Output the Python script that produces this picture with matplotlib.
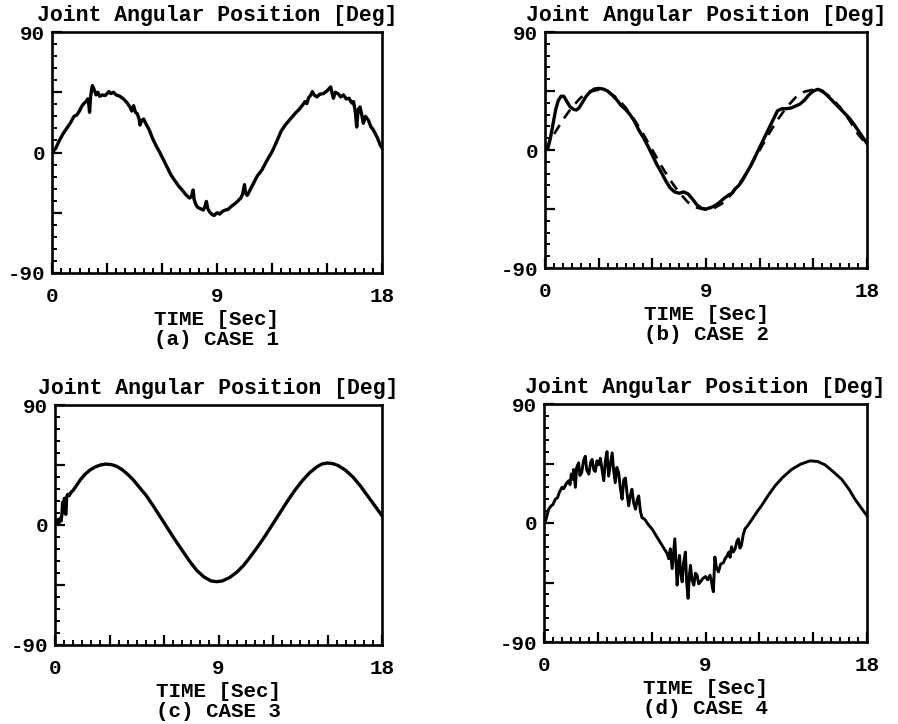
import matplotlib
matplotlib.use("Agg")
import matplotlib.pyplot as plt
from matplotlib.ticker import FixedLocator, MultipleLocator, FuncFormatter

# --- data (time [s], joint angle [deg]) ---

# (a) CASE 1
t_a = [0.0, 0.2, 0.4, 0.6, 0.8, 1.0, 1.1, 1.2, 1.35, 1.5, 1.6, 1.7, 1.85, 1.95, 2.0, 2.05,
       2.1, 2.15, 2.2, 2.3, 2.4, 2.5, 2.6, 2.75, 2.9, 3.0, 3.1, 3.2, 3.35, 3.5, 3.7, 3.9,
       4.1, 4.25, 4.35, 4.45, 4.55, 4.65, 4.75, 4.8, 4.9, 5.0, 5.1, 5.3, 5.5, 5.7, 5.9,
       6.1, 6.3, 6.5, 6.7, 6.9, 7.1, 7.3, 7.5, 7.6, 7.7, 7.75, 7.85, 7.95, 8.1, 8.25,
       8.35, 8.42, 8.5, 8.6, 8.75, 8.85, 9.0, 9.15, 9.3, 9.45, 9.6, 9.8, 10.0, 10.15,
       10.3, 10.4, 10.5, 10.55, 10.65, 10.8, 11.0, 11.2, 11.45, 11.7, 12.0, 12.25, 12.5,
       12.75, 13.0, 13.25, 13.5, 13.7, 13.8, 13.9, 14.0, 14.1, 14.2, 14.3, 14.45, 14.6,
       14.8, 15.0, 15.1, 15.2, 15.28, 15.35, 15.45, 15.6, 15.75, 15.9, 16.05, 16.2,
       16.35, 16.45, 16.55, 16.62, 16.7, 16.8, 16.9, 16.98, 17.1, 17.26, 17.4, 17.5,
       17.62, 17.75, 17.9, 18.0]
pos_a = [0, 3, 9, 14, 18, 22, 24.5, 27, 28, 31, 34, 36, 38, 40, 37, 30,
         41, 46, 50, 47, 43, 45, 42, 43, 42.5, 44, 45.5, 44, 45, 43, 42, 40,
         37, 34, 31, 35, 30, 29, 25, 20.5, 24, 25, 22, 17, 10, 4.5, -0.5,
         -6, -11.5, -17, -21, -25, -28, -31.5, -34, -33, -28, -35, -39, -41, -42, -43,
         -40, -36.5, -42, -44.5, -46.5, -47, -45, -46, -44, -43, -42.5, -40, -38, -36,
         -34, -31, -24, -30, -32, -28, -22.5, -17.5, -13, -6.5, 0.5, 8, 16,
         21, 25, 29, 32.5, 36, 38, 36.5, 41, 42.5, 45.5, 43, 41.5, 43.5,
         44, 46, 47.5, 49, 44, 40.5, 45, 44, 41.5, 43, 40, 40.5,
         37, 38, 30, 19, 32, 34, 28, 21.8, 27, 24, 19, 17.5,
         14.3, 11, 5.6, 3.5]

# (b) CASE 2 -- desired (dashed) and actual (solid)
t_b_ref = [0, 0.5, 1, 1.5, 2, 2.5, 3, 3.5, 4, 4.5, 5, 5.5, 6, 6.5, 7, 7.5, 8, 8.5, 9,
           9.5, 10, 10.5, 11, 11.5, 12, 12.5, 13, 13.5, 14, 14.5, 15, 15.5, 16, 16.5,
           17, 17.5, 18]
pos_b_ref = [0, 12, 23, 32.5, 40, 44.5, 46, 44.5, 40, 32.5, 23, 12, 0, -12, -23, -32.5,
             -40, -44, -45.5, -44, -40, -32.5, -23, -12, 0, 12, 23, 32.5, 40, 44.5, 46,
             44.5, 40, 32.5, 23, 12, 4]
t_b = [0, 0.15, 0.3, 0.45, 0.6, 0.75, 0.9, 1.05, 1.2, 1.4, 1.6, 1.75, 1.9, 2.1, 2.3, 2.5,
       2.75, 3.0, 3.25, 3.5, 3.75, 4.0, 4.25, 4.5, 4.75, 5.0, 5.25, 5.5, 5.75, 6.0, 6.25,
       6.5, 6.75, 7.0, 7.25, 7.5, 7.75, 8.0, 8.25, 8.5, 8.75, 9.0, 9.25, 9.5, 9.75, 10.0,
       10.25, 10.45, 10.6, 10.8, 11.0, 11.25, 11.5, 11.75, 12.0, 12.25, 12.5, 12.75, 13.0,
       13.25, 13.5, 13.75, 14.0, 14.25, 14.5, 14.75, 15.0, 15.25, 15.5, 15.75, 16.0,
       16.25, 16.5, 16.75, 17.0, 17.25, 17.5, 17.75, 18.0]
pos_b = [0, 1, 9, 20, 31, 38, 41, 41, 37.5, 33, 31, 30.5, 32, 36.5, 41, 44,
         46.5, 47, 46.5, 45, 42, 38.5, 34, 31, 27, 22, 15, 9.5, 3, -4, -11,
         -17, -23.5, -29, -32, -33, -32, -33.5, -37.5, -42, -44.5, -45, -44, -42.5, -40, -37,
         -34.5, -33, -30, -27.5, -24, -18, -12, -5, 2, 9, 16, 23, 30,
         31.5, 31.5, 32, 33.5, 35, 38, 42, 45, 46.3, 45, 42, 38.5,
         35, 31.5, 28, 24.5, 20, 15, 10, 5]

# (c) CASE 3
t_c = [0, 0.08, 0.15, 0.2, 0.28, 0.33, 0.38, 0.42, 0.47, 0.52, 0.56, 0.6, 0.64, 0.7, 0.78,
       0.88, 1.0, 1.2, 1.4, 1.65, 1.9, 2.2, 2.5, 2.8, 3.1, 3.4, 3.7, 4.0, 4.3, 4.6, 5.0,
       5.4, 5.8, 6.2, 6.6, 7.0, 7.4, 7.8, 8.2, 8.6, 8.9, 9.2, 9.6, 10.0, 10.4, 10.8, 11.2,
       11.6, 12.0, 12.4, 12.8, 13.2, 13.6, 14.0, 14.4, 14.7, 15.0, 15.3, 15.6, 16.0, 16.4,
       16.8, 17.2, 17.6, 18.0]
pos_c = [0, 2, 4, 1, 5, 3, 8, 17, 12, 20, 9, 8, 21, 23, 22,
         24.5, 26, 30, 34, 38, 41, 43.5, 45, 45.7, 45.3, 44, 41.5, 38, 34, 29, 22.5,
         14.5, 6, -2.5, -11, -19, -27, -34, -39, -42, -42.5, -42, -39.5, -35.5, -30, -23, -15.5,
         -7.5, 1, 9.5, 18, 26, 33, 39, 43.5, 45.8, 46.5, 46, 44.5, 41, 36,
         29.5, 22, 14.5, 7]

# (d) CASE 4
t_d = [0, 0.1, 0.26, 0.4, 0.5, 0.63, 0.75, 0.85, 1.0, 1.1, 1.25, 1.38, 1.45, 1.52, 1.6,
       1.65, 1.75, 1.82, 1.93, 2.0, 2.1, 2.2, 2.3, 2.38, 2.5, 2.6, 2.68, 2.78, 2.86, 2.95,
       3.05, 3.14, 3.24, 3.33, 3.42, 3.51, 3.6, 3.7, 3.8, 3.88, 3.97, 4.06, 4.16, 4.25,
       4.35, 4.45, 4.54, 4.63, 4.72, 4.8, 4.9, 5.0, 5.1, 5.2, 5.28, 5.37, 5.46, 5.6, 5.8,
       6.02, 6.2, 6.4, 6.58, 6.72, 6.86, 6.95, 7.04, 7.14, 7.22, 7.29, 7.36, 7.42, 7.48,
       7.55, 7.62, 7.7, 7.78, 7.88, 7.95, 8.03, 8.1, 8.16, 8.25, 8.35, 8.44, 8.53, 8.62,
       8.72, 8.85, 9.0, 9.12, 9.25, 9.33, 9.4, 9.44, 9.48, 9.52, 9.6, 9.72, 9.85, 10.0,
       10.09, 10.2, 10.3, 10.37, 10.45, 10.55, 10.65, 10.75, 10.83, 10.92, 11.0, 11.1,
       11.2, 11.35, 11.48, 11.7, 11.9, 12.12, 12.5, 12.87, 13.3, 13.8, 14.3, 14.82, 15.25,
       15.66, 16.1, 16.59, 17.0, 17.33, 17.7, 18.0]
pos_d = [0, 2, 10.5, 13, 14, 18, 19, 23, 27, 26, 30, 32, 29, 37, 33,
         40.5, 27, 42, 45.5, 36, 38, 47, 50.5, 40, 37, 46, 48, 40, 39, 47,
         44, 49, 40, 32, 47, 54, 35.5, 44, 53, 40, 30.5, 42, 38, 27,
         18, 33, 34, 22, 13, 20, 25.5, 15, 10.5, 18, 20.5, 9, 4, 3, -1,
         -4.5, -8.5, -13, -17, -20, -23, -27, -19.5, -34.5, -22, -12, -30, -47, -33,
         -24.5, -38, -44.5, -30, -22, -45, -57, -40, -32, -43, -47, -38, -39.5, -46,
         -44.5, -42, -40.5, -43, -39.5, -44, -50, -52, -38, -25.7, -33, -37, -31, -30,
         -27, -25, -22, -26, -18, -22, -19.5, -14, -12, -19, -17, -9,
         -4.5, -2, 0.5, 5, 9, 13, 21, 28, 34.5, 40.5, 44.5, 47, 46.5,
         44, 39, 33, 25.5, 18, 11, 5.5]

case_labels = ["(a) CASE 1", "(b) CASE 2", "(c) CASE 3", "(d) CASE 4"]

plt.rcParams['font.family'] = ['Liberation Mono', 'DejaVu Sans Mono']
plt.rcParams['font.weight'] = 'bold'

W, H = 898, 724
fig = plt.figure(figsize=(W / 100, H / 100), dpi=100)

# axes boxes in pixels: left, top, right, bottom
boxes = [(52, 32, 382, 273), (545, 32, 867, 268), (55, 405, 382, 645), (544, 404, 867, 642)]


def style(ax, label):
    ax.set_xlim(0, 18)
    ax.set_ylim(-90, 90)
    ax.xaxis.set_major_locator(FixedLocator([0, 3, 6, 9, 12, 15, 18]))
    ax.xaxis.set_minor_locator(MultipleLocator(0.5))
    ax.yaxis.set_major_locator(FixedLocator([-90, -45, 0, 45, 90]))
    ax.yaxis.set_minor_locator(MultipleLocator(9))
    ax.xaxis.set_major_formatter(FuncFormatter(lambda v, p: "%d" % v if v in (0, 9, 18) else ""))
    ax.yaxis.set_major_formatter(FuncFormatter(lambda v, p: "%d" % v if v in (-90, 0, 90) else ""))
    ax.tick_params(which='major', direction='in', length=7, width=1.6, labelsize=15)
    ax.tick_params(which='minor', direction='in', length=3.5, width=1.4)
    ax.tick_params(axis='x', which='major', pad=10)
    ax.tick_params(axis='y', which='major', pad=5)
    for s in ax.spines.values():
        s.set_linewidth(1.9)
    ax.set_title("Joint Angular Position [Deg]", fontsize=15.5, fontweight='bold', pad=8)
    ax.set_xlabel("TIME [Sec]\n" + label, fontsize=15, fontweight='bold',
                  labelpad=3, linespacing=1.08)


axes = []
for (l, t, r, b), lab in zip(boxes, case_labels):
    ax = fig.add_axes([l / W, 1 - b / H, (r - l) / W, (b - t) / H])
    style(ax, lab)
    axes.append(ax)

axes[0].plot(t_a, pos_a, color='black', lw=2.4)
axes[1].plot(t_b_ref, pos_b_ref, color='black', lw=1.9, ls=(0, (4, 3)))
axes[1].plot(t_b, pos_b, color='black', lw=2.4)
axes[2].plot(t_c, pos_c, color='black', lw=2.4)
axes[3].plot(t_d, pos_d, color='black', lw=2.1)

fig.savefig("out.png", dpi=100, facecolor='white')
